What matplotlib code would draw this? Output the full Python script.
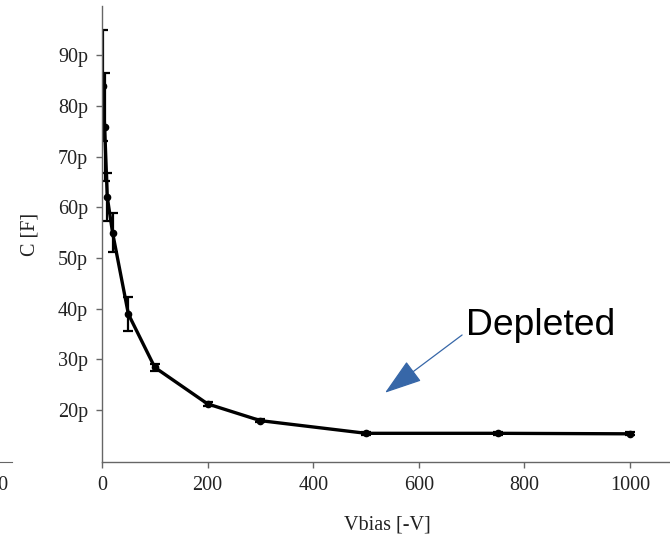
import matplotlib
matplotlib.use("Agg")
import matplotlib.pyplot as plt
from matplotlib.ticker import EngFormatter

# Data (Vbias in -V, capacitance in F)
vbias = [1, 5, 10, 20, 50, 100, 200, 300, 500, 750, 1000]
cap_pf = [84.0, 75.8, 62.0, 55.0, 38.9, 28.4, 21.2, 17.9, 15.4, 15.4, 15.3]
err_pf = [11.0, 10.7, 4.7, 3.8, 3.4, 0.75, 0.4, 0.3, 0.3, 0.3, 0.3]
yticks_pf = [20, 30, 40, 50, 60, 70, 80, 90]
xticks = [0, 200, 400, 600, 800, 1000]

cap = [v * 1e-12 for v in cap_pf]
err = [v * 1e-12 for v in err_pf]

serif = ["Liberation Serif", "DejaVu Serif"]
spine_col = "#666666"

W, H = 670, 539
fig = plt.figure(figsize=(W / 100, H / 100), dpi=100)

# main axes
x0, x1 = 102, 672
y0, y1 = 462, 6
ax = fig.add_axes([x0 / W, 1 - y0 / H, (x1 - x0) / W, (y0 - y1) / H])

ax.errorbar(vbias, cap, yerr=err, color="black", lw=2.4, marker="o", ms=4.5,
            elinewidth=1.6, capsize=3.5, capthick=1.6, clip_on=True)

ax.set_xlim(0, (x1 - x0) / 0.528)
ax.set_ylim(9.74e-12, 99.7e-12)
ax.set_xticks(xticks)
ax.set_yticks([v * 1e-12 for v in yticks_pf])
ax.yaxis.set_major_formatter(EngFormatter(unit="", places=0, sep=""))

for s in ["top", "right"]:
    ax.spines[s].set_visible(False)
for s in ["left", "bottom"]:
    ax.spines[s].set_color(spine_col)
    ax.spines[s].set_linewidth(1.0)
ax.tick_params(direction="out", length=4, width=1, color=spine_col,
               labelsize=14.5, labelcolor="#222222", pad=6)
for lab in ax.get_xticklabels() + ax.get_yticklabels():
    lab.set_family(serif)

ax.set_xlabel("Vbias [-V]", family=serif, fontsize=14.5, color="#222222", labelpad=14.5)
ax.set_ylabel("C [F]", family=serif, fontsize=14.5, color="#222222", labelpad=13.5)

# annotation
ax.annotate("", xy=(536, 23.4e-12), xytext=(682, 34.8e-12),
            arrowprops=dict(arrowstyle="-|>,head_length=0.85,head_width=0.28",
                            mutation_scale=28, color="#3767a8", lw=0.9,
                            shrinkA=0, shrinkB=0))
ax.text(689, 36.6e-12, "Depleted", family=["Liberation Sans", "DejaVu Sans"],
        fontsize=26.8, ha="left", va="center", color="black")

# neighbouring (cropped) panel fragment on the left
nx1 = 12
nscale = 0.528
nxmax = 1044
nx0 = nx1 - nxmax * nscale
ax2 = fig.add_axes([nx0 / W, 1 - y0 / H, (nx1 - nx0) / W, (y0 - y1) / H])
ax2.set_xlim(0, nxmax)
ax2.set_xticks([1000])
ax2.set_yticks([])
for s in ["top", "right", "left"]:
    ax2.spines[s].set_visible(False)
ax2.spines["bottom"].set_color(spine_col)
ax2.tick_params(direction="out", length=4, width=1, color=spine_col,
                labelsize=14.5, labelcolor="#222222", pad=6)
for lab in ax2.get_xticklabels():
    lab.set_family(serif)
ax2.patch.set_alpha(0)

fig.savefig("out.png", dpi=100)
